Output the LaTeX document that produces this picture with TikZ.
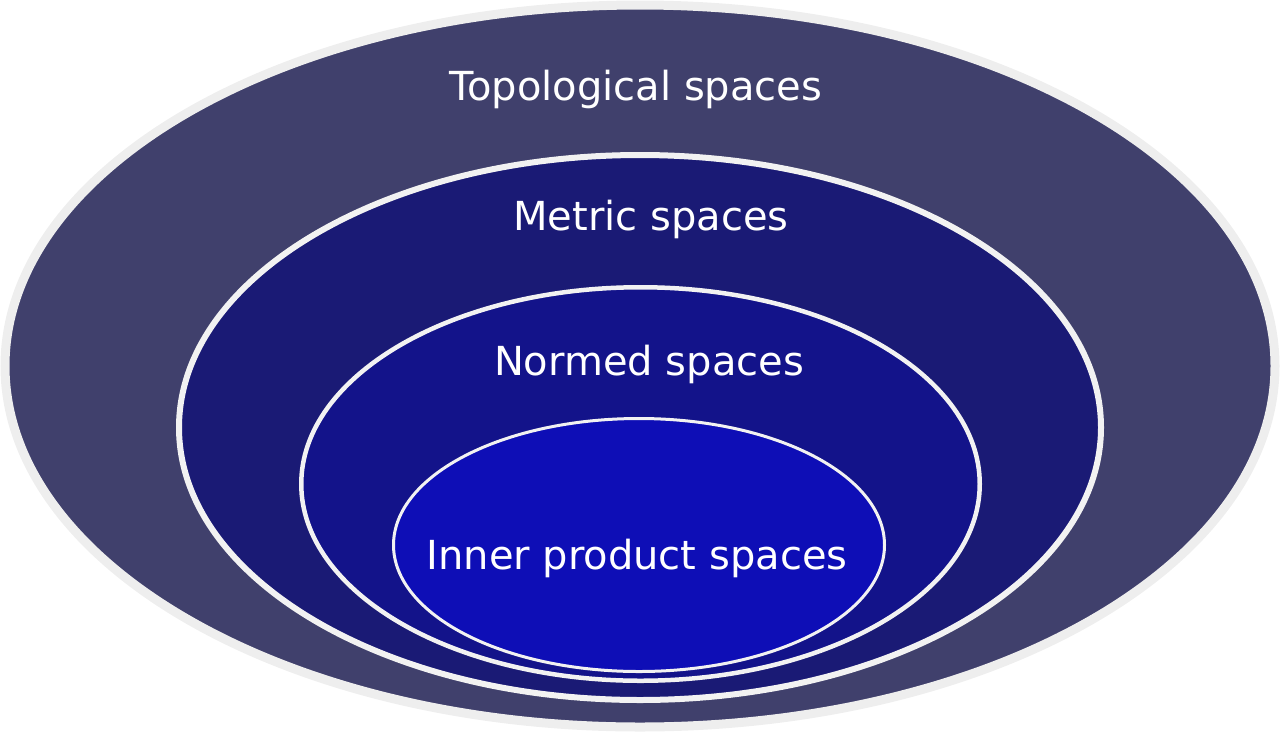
\documentclass[tikz,border=0pt]{standalone}
\usepackage{fontspec}
\setmainfont{DejaVu Sans}
\usetikzlibrary{shapes.geometric}
\definecolor{topfill}{HTML}{40406C}
\definecolor{metfill}{HTML}{1A1A75}
\definecolor{normfill}{HTML}{13138A}
\definecolor{innfill}{HTML}{0E0EB6}
\definecolor{rimgray}{HTML}{EEEEEE}
\definecolor{rimwhite}{HTML}{F2F2F2}
\tikzset{
  set/.style={ellipse, inner sep=0pt, outer sep=0pt},
  lbl/.style={text=white, anchor=base, inner sep=0pt, font=\fontsize{40}{48}\selectfont}
}
\begin{document}
\begin{tikzpicture}[x=1pt,y=-1pt]
\useasboundingbox (0,0) rectangle (1280,732);
\node[set, draw=rimgray, line width=9pt, fill=topfill, minimum width=1270pt, minimum height=722pt] (top) at (640,366) {};
\node[set, draw=rimwhite, line width=6pt, fill=metfill, minimum width=922pt, minimum height=545pt] (met) at (640,427.5) {};
\node[set, draw=rimwhite, line width=4.5pt, fill=normfill, minimum width=678.5pt, minimum height=393.5pt] (norm) at (640.5,484) {};
\node[set, draw=rimwhite, line width=3pt, fill=innfill, minimum width=491pt, minimum height=253pt] (inn) at (639,545) {};
\node[lbl] (ltop) at (636,100) {Topological spaces};
\node[lbl] (lmet) at (651,230) {Metric spaces};
\node[lbl] (lnorm) at (649,375) {Normed spaces};
\node[lbl] (linn) at (637,569) {Inner product spaces};
\end{tikzpicture}
\end{document}
